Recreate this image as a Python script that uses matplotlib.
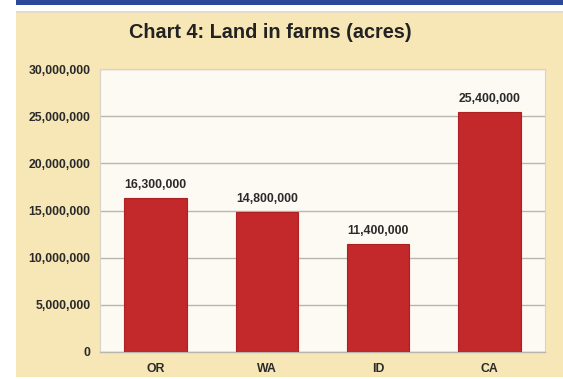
import matplotlib
matplotlib.use("Agg")
import matplotlib.pyplot as plt
from matplotlib.patches import Rectangle
from matplotlib.ticker import FuncFormatter

states = ["OR", "WA", "ID", "CA"]
acres = [16300000, 14800000, 11400000, 25400000]
y_ticks = [0, 5000000, 10000000, 15000000, 20000000, 25000000, 30000000]

plt.rcParams["font.family"] = ["Liberation Sans", "DejaVu Sans"]
plt.rcParams["font.weight"] = "bold"

fig = plt.figure(figsize=(5.63, 3.79), dpi=100)
fig.patch.set_facecolor("white")

# beige panel with the blue band along the top
fig.patches.append(Rectangle((16 / 563, 2 / 379), 547 / 563, 364 / 379,
                             transform=fig.transFigure, facecolor="#f7e7b6",
                             edgecolor="none", zorder=0))
fig.patches.append(Rectangle((16 / 563, 366 / 379), 547 / 563, 2 / 379,
                             transform=fig.transFigure, facecolor="#ead9c8",
                             edgecolor="none", zorder=0))
fig.patches.append(Rectangle((16 / 563, 374 / 379), 547 / 563, 5 / 379,
                             transform=fig.transFigure, facecolor="#2c4898",
                             edgecolor="none", zorder=1))

ax = fig.add_axes([100 / 563, 27 / 379, 445 / 563, 283 / 379])
ax.set_zorder(5)
ax.set_facecolor("#fcfaf3")

x = range(len(states))
bars = ax.bar(x, acres, width=0.56, color="#c3282a", edgecolor="#ad2024",
              linewidth=0.8, zorder=3)

for rect, val in zip(bars, acres):
    ax.annotate(f"{val:,}", (rect.get_x() + rect.get_width() / 2, val),
                xytext=(0, 5.5), textcoords="offset points", ha="center",
                va="bottom", fontsize=8.8, fontweight="bold", color="#2a2a2a")

ax.set_xlim(-0.5, 3.5)
ax.set_ylim(0, 30000000)
ax.set_yticks(y_ticks)
ax.yaxis.set_major_formatter(FuncFormatter(lambda v, p: f"{int(v):,}"))
ax.set_xticks(list(x))
ax.set_xticklabels(states)
ax.tick_params(axis="y", length=0, pad=7, labelsize=8.8, labelcolor="#2a2a2a")
ax.tick_params(axis="x", length=0, pad=8, labelsize=8.8, labelcolor="#2a2a2a")
for lab in ax.get_xticklabels() + ax.get_yticklabels():
    lab.set_fontweight("bold")

ax.grid(axis="y", color="#b9b6ae", linewidth=1.0, zorder=1)
for side in ["top", "left", "right"]:
    ax.spines[side].set_color("#d8d4c8")
    ax.spines[side].set_linewidth(0.8)
ax.spines["bottom"].set_color("#b9b6ae")
ax.spines["bottom"].set_linewidth(1.0)

fig.text(270 / 563, 1 - 33 / 379, "Chart 4: Land in farms (acres)",
         ha="center", va="center", fontsize=14.3, fontweight="bold",
         color="#222222")

fig.savefig("out.png", dpi=100)
